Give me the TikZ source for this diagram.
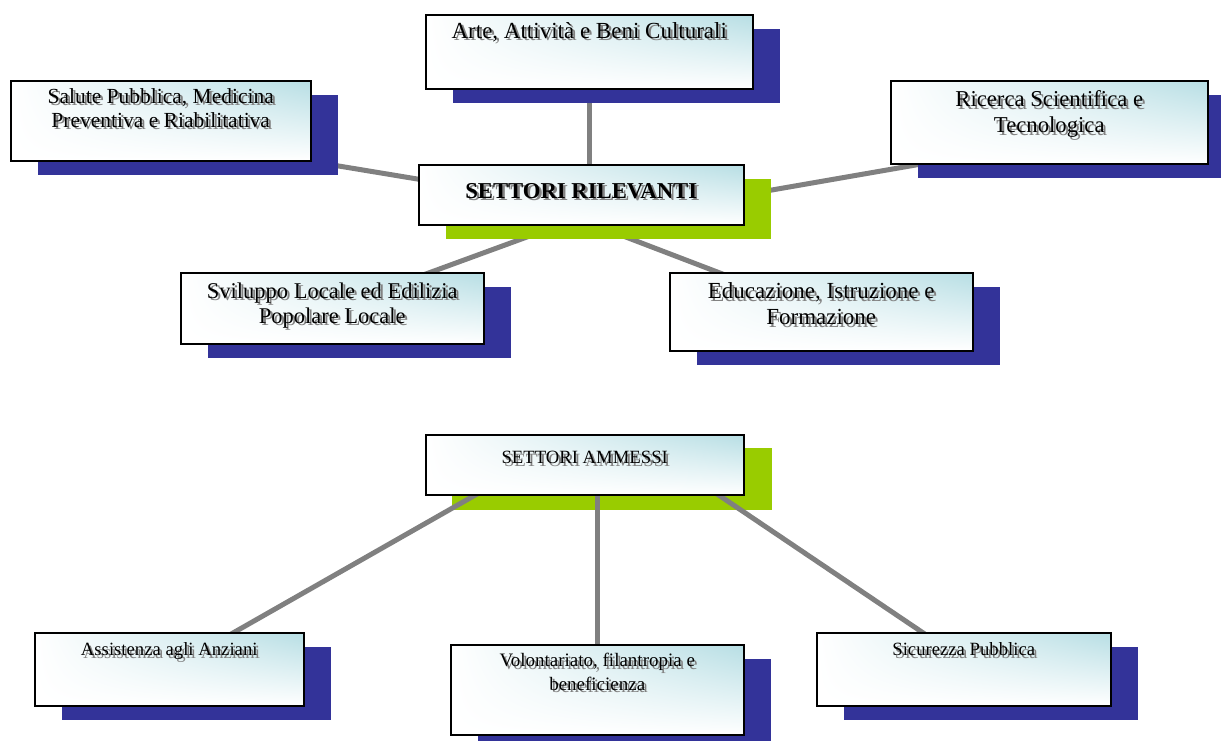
\documentclass[tikz,border=0pt]{standalone}
\usepackage{fontspec}
\setmainfont{Liberation Serif}
\usepackage{xcolor}
\usepackage{tikz}
\usetikzlibrary{calc,shadows,shadings,backgrounds}

\definecolor{shadowblue}{RGB}{51,51,153}
\definecolor{shadowgreen}{RGB}{153,204,0}
\definecolor{boxblue}{RGB}{183,222,228}
\definecolor{linkgray}{RGB}{128,128,128}
\definecolor{txtgray}{RGB}{130,130,130}

% text with a grey copy behind it
\newcommand{\shtxt}[1]{\makebox[0pt][l]{\hspace{2.5pt}\raisebox{-2.5pt}{\textcolor{txtgray}{#1}}}#1}

\tikzset{
    sbox/.style={draw=black, line width=1.5pt, anchor=north west, inner sep=0pt,
        upper left=white, upper right=boxblue, lower left=white, lower right=white},
    blueshadow/.style={drop shadow={shadow xshift=27pt, shadow yshift=-14pt, fill=#1, opacity=1}},
    blueshadow/.default=shadowblue,
    txt/.style={anchor=north, inner sep=0pt, align=center, font=\fontsize{22.5}{25}\selectfont},
    smalltxt/.style={txt, font=\fontsize{18.7}{23.5}\selectfont},
    link/.style={draw=linkgray, line width=5pt},
}

\begin{document}
\begin{tikzpicture}[x=1pt, y=-1pt]
    \useasboundingbox (0, 0) rectangle (1221, 740);

    % Settori rilevanti
    \node[sbox, blueshadow=shadowgreen, minimum width=325pt, minimum height=60pt,
        label={[txt, font=\bfseries\fontsize{22.7}{26}\selectfont, yshift=-19pt]north:\shtxt{SETTORI RILEVANTI}}] (rilev) at (418, 164) {};
    \node[sbox, blueshadow, minimum width=327pt, minimum height=74pt,
        label={[txt, font=\fontsize{23}{26}\selectfont, yshift=-8pt]north:\shtxt{Arte, Attività e Beni Culturali}}] (arte) at (425, 14) {};
    \node[sbox, blueshadow, minimum width=300pt, minimum height=80pt,
        label={[txt, font=\fontsize{21.5}{24}\selectfont, yshift=-8pt]north:{\shtxt{Salute Pubblica, Medicina}\\\shtxt{Preventiva e Riabilitativa}}}] (salute) at (10, 80) {};
    \node[sbox, blueshadow, minimum width=317pt, minimum height=83pt,
        label={[txt, font=\fontsize{22.7}{26}\selectfont, yshift=-10.5pt]north:{\shtxt{Ricerca Scientifica e}\\\shtxt{Tecnologica}}}] (ricerca) at (890, 80) {};
    \node[sbox, blueshadow, minimum width=303pt, minimum height=71pt,
        label={[txt, yshift=-10.5pt]north:{\shtxt{Sviluppo Locale ed Edilizia}\\\shtxt{Popolare Locale}}}] (svil) at (180, 272) {};
    \node[sbox, blueshadow, minimum width=303pt, minimum height=78pt,
        label={[txt, font=\fontsize{23}{26}\selectfont, yshift=-10.5pt]north:{\shtxt{Educazione, Istruzione e}\\\shtxt{Formazione}}}] (educ) at (669, 272) {};

    % Settori ammessi
    \node[sbox, minimum width=318pt, minimum height=60pt,
        label={[smalltxt, yshift=-17pt]north:\shtxt{SETTORI AMMESSI}}] (ammessi) at (425, 434) {};
    \node[sbox, blueshadow, minimum width=269pt, minimum height=73pt,
        label={[smalltxt, yshift=-10.5pt]north:\shtxt{Assistenza agli Anziani}}] (assist) at (34, 632) {};
    \node[sbox, blueshadow, minimum width=293pt, minimum height=90pt,
        label={[smalltxt, font=\fontsize{19}{23.5}\selectfont, yshift=-9pt]north:{\shtxt{Volontariato, filantropia e}\\\shtxt{beneficienza}}}] (volont) at (450, 644) {};
    \node[sbox, blueshadow, minimum width=294pt, minimum height=73pt,
        label={[smalltxt, yshift=-10.5pt]north:\shtxt{Sicurezza Pubblica}}] (sicur) at (816, 632) {};

    \begin{scope}[on background layer]
        \draw[link] (arte.center) -- (arte.center |- rilev.center);
        \draw[link] (salute.south east) -- ($(rilev.west)+(22,-12)$);
        \draw[link] (rilev.east) -- ($(ricerca.south west)+(40,-2)$);
        \draw[link] ($(rilev.south)+(-12,-4)$) -- (svil.center);
        \draw[link] ($(rilev.south)+(4,-4)$) -- (educ.center);

        % green shadow of the second box lies under its links
        \fill[shadowgreen] ($(ammessi.north west)+(27,14)$) rectangle ($(ammessi.south east)+(27,14)$);
        \draw[link] ($(ammessi.south west)+(67,-10)$) -- (assist.center);
        \draw[link] (volont.center) -- (volont.center |- ammessi.center);
        \draw[link] ($(ammessi.south east)+(-40,-10)$) -- ($(sicur.center)+(0,-9)$);
    \end{scope}
\end{tikzpicture}
\end{document}
